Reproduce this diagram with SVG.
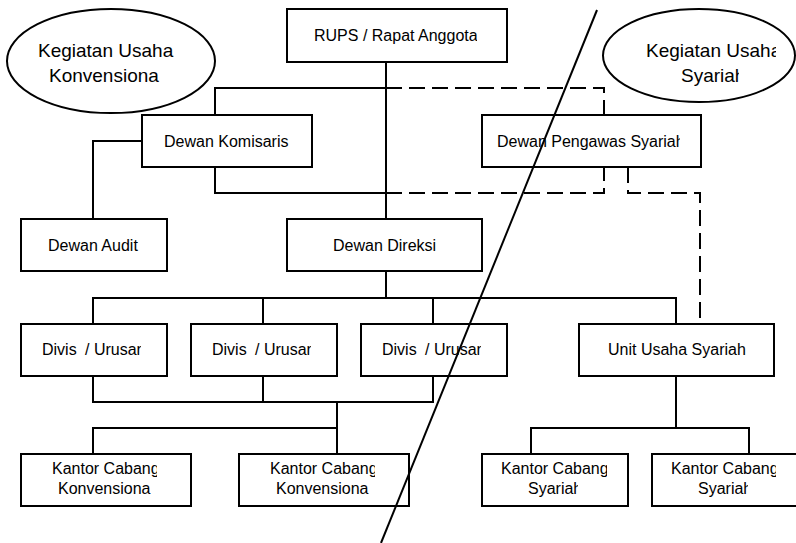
<svg xmlns="http://www.w3.org/2000/svg" width="796" height="543" viewBox="0 0 796 543">
  <style>
    .box { fill: #fff; stroke: #000; stroke-width: 2; }
    .oval { fill: #fff; stroke: #000; stroke-width: 2; }
    .lbl { font-family: "Liberation Sans", Arial, sans-serif; font-size: 16px; fill: #000; }
    .big { font-family: "Liberation Sans", Arial, sans-serif; font-size: 19px; fill: #000; }
    .line { fill: none; stroke: #000; stroke-width: 2; }
    .dash { fill: none; stroke: #000; stroke-width: 2; stroke-dasharray: 16 7; }
  </style>
  <defs>
    <!-- text frames that cut off the last glyph of some labels -->
    <clipPath id="cRups"><rect x="280" y="0" width="197" height="70"/></clipPath>
    <clipPath id="cKom"><rect x="140" y="110" width="149" height="60"/></clipPath>
    <clipPath id="cDps"><rect x="480" y="110" width="200" height="60"/></clipPath>
    <clipPath id="cKusR"><rect x="600" y="30" width="176" height="40"/></clipPath>
    <clipPath id="cSyR"><rect x="600" y="62" width="139" height="30"/></clipPath>
    <clipPath id="cDiv1"><rect x="20" y="320" width="121" height="60"/></clipPath>
    <clipPath id="cDiv2"><rect x="190" y="320" width="121" height="60"/></clipPath>
    <clipPath id="cDiv3"><rect x="360" y="320" width="121" height="60"/></clipPath>
    <clipPath id="cKc1"><rect x="20" y="455" width="137" height="25"/></clipPath>
    <clipPath id="cKc2"><rect x="238" y="455" width="137" height="25"/></clipPath>
    <clipPath id="cKs1"><rect x="480" y="455" width="127" height="25"/></clipPath>
    <clipPath id="cKs2"><rect x="650" y="455" width="126" height="25"/></clipPath>
    <clipPath id="cSy1"><rect x="480" y="478" width="98" height="25"/></clipPath>
    <clipPath id="cSy2"><rect x="650" y="478" width="98" height="25"/></clipPath>
  </defs>

  <!-- connectors -->
  <g id="connectors">
    <path class="line" d="M386 62 V219"/>
    <path class="line" d="M215 115 V88 H386"/>
    <path class="dash" d="M386 88 H604 V115"/>
    <path class="line" d="M215 167 V193 H386"/>
    <path class="dash" d="M386 193 H604 V167"/>
    <path class="dash" d="M628 167 V193 H700 V324"/>
    <path class="line" d="M142 141 H93 V219"/>
    <path class="line" d="M386 271 V298"/>
    <path class="line" d="M93 324 V298 H676 V324 M263 298 V324 M433 298 V324"/>
    <path class="line" d="M93 376 V402 H433 V376 M263 376 V402"/>
    <path class="line" d="M337 402 V454"/>
    <path class="line" d="M93 454 V428 H337"/>
    <path class="line" d="M676 376 V428"/>
    <path class="line" d="M531 454 V428 H749 V454"/>
  </g>

  <g id="kegiatan-konvensional">
    <ellipse class="oval" cx="111" cy="61" rx="104" ry="52"/>
    <text class="big" x="38" y="57">Kegiatan Usaha</text>
    <text class="big" x="49" y="82">Konvensiona</text>
  </g>

  <g id="kegiatan-syariah">
    <ellipse class="oval" cx="699" cy="55.5" rx="96" ry="46.5"/>
    <text class="big" x="646" y="57" clip-path="url(#cKusR)">Kegiatan Usaha</text>
    <text class="big" x="681" y="82" clip-path="url(#cSyR)">Syariah</text>
  </g>

  <g id="rups">
    <rect class="box" x="287" y="9" width="220" height="53"/>
    <text class="lbl" x="314" y="41" clip-path="url(#cRups)">RUPS / Rapat Anggota</text>
  </g>

  <g id="dewan-komisaris">
    <rect class="box" x="142" y="115" width="170" height="52"/>
    <text class="lbl" x="164" y="147" clip-path="url(#cKom)">Dewan Komisaris</text>
  </g>

  <g id="dewan-pengawas-syariah">
    <rect class="box" x="482" y="115" width="219" height="52"/>
    <text class="lbl" x="497" y="147" clip-path="url(#cDps)">Dewan Pengawas Syariah</text>
  </g>

  <g id="dewan-audit">
    <rect class="box" x="21" y="219" width="146" height="52"/>
    <text class="lbl" x="48" y="251">Dewan Audit</text>
  </g>

  <g id="dewan-direksi">
    <rect class="box" x="287" y="219" width="195" height="52"/>
    <text class="lbl" x="333" y="251">Dewan Direksi</text>
  </g>

  <g id="divisi-1">
    <rect class="box" x="21" y="324" width="146" height="52"/>
    <text class="lbl" x="42" y="355" clip-path="url(#cDiv1)">Divis<tspan x="85">/ Urusan</tspan></text>
  </g>

  <g id="divisi-2">
    <rect class="box" x="191" y="324" width="146" height="52"/>
    <text class="lbl" x="212" y="355" clip-path="url(#cDiv2)">Divis<tspan x="255">/ Urusan</tspan></text>
  </g>

  <g id="divisi-3">
    <rect class="box" x="361" y="324" width="146" height="52"/>
    <text class="lbl" x="382" y="355" clip-path="url(#cDiv3)">Divis<tspan x="425">/ Urusan</tspan></text>
  </g>

  <g id="unit-usaha-syariah">
    <rect class="box" x="579" y="324" width="195" height="52"/>
    <text class="lbl" x="608" y="355">Unit Usaha Syariah</text>
  </g>

  <g id="kantor-konvensional-1">
    <rect class="box" x="21" y="454" width="170" height="52"/>
    <text class="lbl" x="52" y="474" clip-path="url(#cKc1)">Kantor Cabang</text>
    <text class="lbl" x="58" y="494">Konvensiona</text>
  </g>

  <g id="kantor-konvensional-2">
    <rect class="box" x="239" y="454" width="170" height="52"/>
    <text class="lbl" x="270" y="474" clip-path="url(#cKc2)">Kantor Cabang</text>
    <text class="lbl" x="276" y="494">Konvensiona</text>
  </g>

  <g id="kantor-syariah-1">
    <rect class="box" x="482" y="454" width="146" height="52"/>
    <text class="lbl" x="501" y="474" clip-path="url(#cKs1)">Kantor Cabang</text>
    <text class="lbl" x="528" y="494" clip-path="url(#cSy1)">Syariah</text>
  </g>

  <g id="kantor-syariah-2">
    <rect class="box" x="652" y="454" width="146" height="52"/>
    <text class="lbl" x="671" y="474" clip-path="url(#cKs2)">Kantor Cabang</text>
    <text class="lbl" x="698" y="494" clip-path="url(#cSy2)">Syariah</text>
  </g>

  <!-- dividing stroke between conventional and sharia sides -->
  <line class="line" x1="597" y1="10" x2="381" y2="543"/>
</svg>
